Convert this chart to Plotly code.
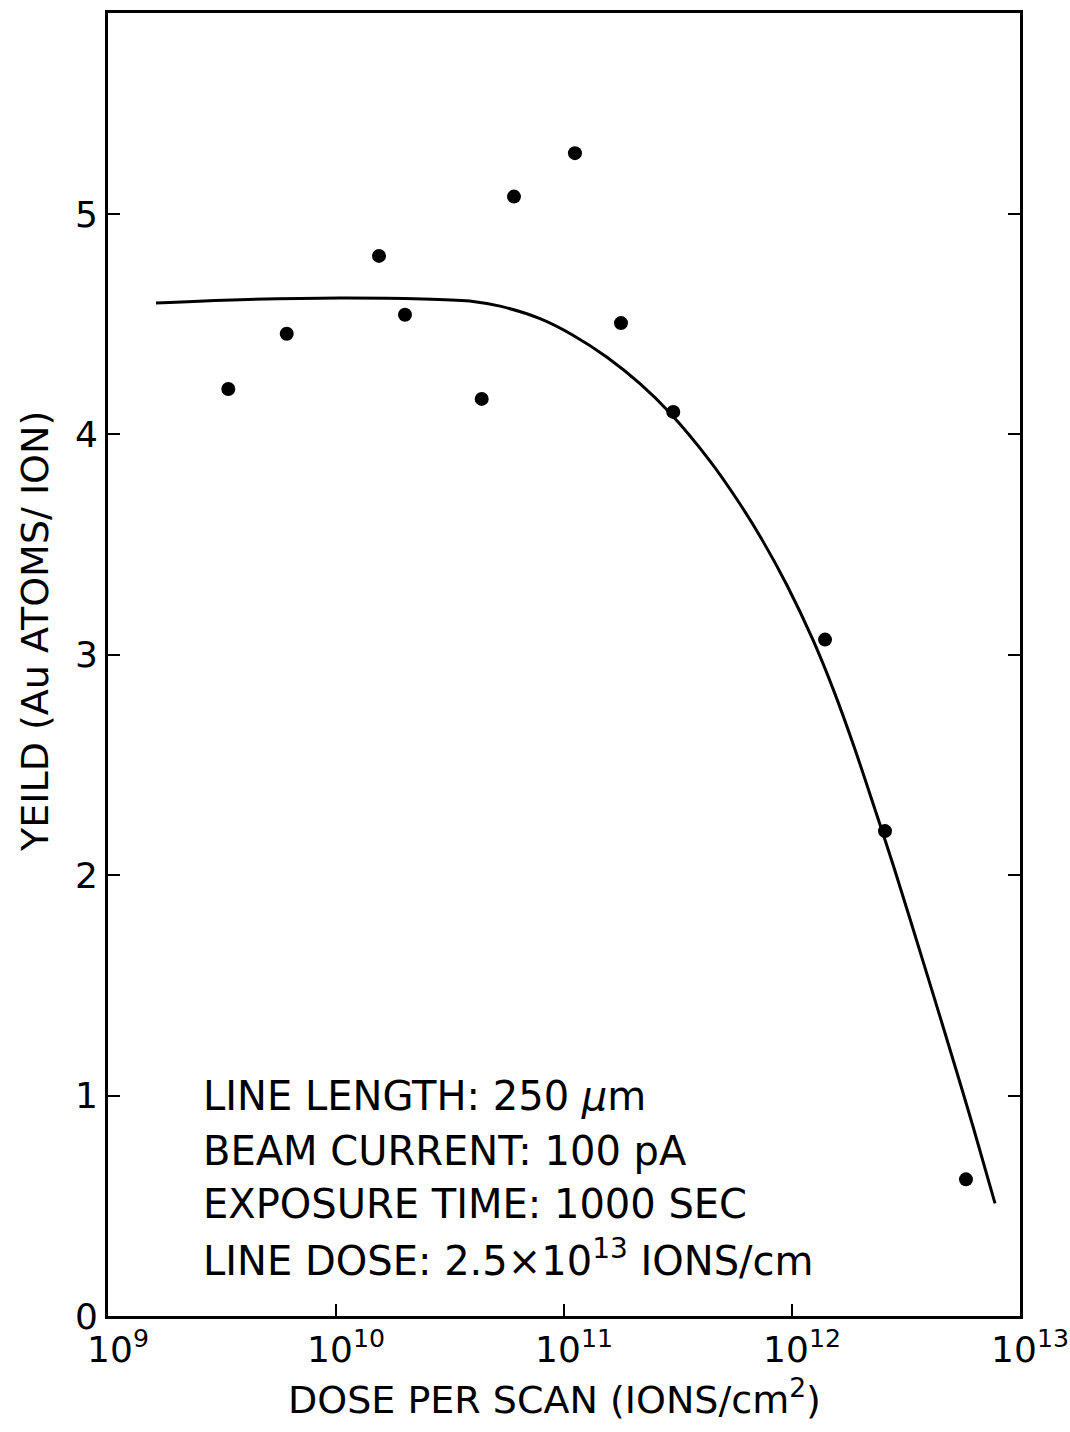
import plotly.graph_objects as go

# Measured data points: dose per scan (ions/cm^2) and yield (Au atoms / ion)
dose_pts = [3.37e9, 6.08e9, 1.544e10, 2.007e10, 4.355e10, 6.035e10,
            1.117e11, 1.778e11, 3.015e11, 1.396e12, 2.558e12, 5.794e12]
yield_pts = [4.206, 4.457, 4.810, 4.543, 4.161, 5.079,
             5.276, 4.505, 4.102, 3.069, 2.200, 0.620]

# Hand-drawn fit curve
curve_dose = [1.624e9, 3.793e9, 1.041e10, 2.408e10, 3.99e10, 5.24e10, 7.85e10,
              1.095e11, 1.544e11, 2.154e11, 2.917e11, 4.37e11, 5.72e11,
              7.24e11, 9.48e11, 1.240e12, 1.518e12, 1.857e12, 2.274e12,
              2.737e12, 3.293e12, 4.029e12, 5.083e12, 6.222e12, 7.771e12]
curve_yield = [4.596, 4.611, 4.619, 4.614, 4.603, 4.582, 4.525,
               4.450, 4.350, 4.230, 4.097, 3.879, 3.707,
               3.538, 3.318, 3.064, 2.842, 2.593, 2.321,
               2.067, 1.801, 1.507, 1.164, 0.860, 0.511]

x_tickvals = [1e9, 1e10, 1e11, 1e12, 1e13]
x_ticktext = ["10<sup>9</sup>", "10<sup>10</sup>", "10<sup>11</sup>",
              "10<sup>12</sup>", "10<sup>13</sup>"]
y_tickvals = [0, 1, 2, 3, 4, 5]

info_lines = ["LINE LENGTH: 250 <i>μ</i>m",
              "BEAM CURRENT: 100 pA",
              "EXPOSURE TIME: 1000 SEC",
              "LINE DOSE: 2.5×10<sup>13</sup> IONS/cm"]

FONT = "DejaVu Sans"

fig = go.Figure()
fig.add_trace(go.Scatter(x=curve_dose, y=curve_yield, mode="lines",
                         line=dict(color="black", width=3, shape="spline", smoothing=1.0),
                         showlegend=False, hoverinfo="skip"))
fig.add_trace(go.Scatter(x=dose_pts, y=yield_pts, mode="markers",
                         marker=dict(color="black", size=14),
                         showlegend=False))

annotations = []
info_y = [0.169, 0.127, 0.0857, 0.0445]
for txt, yy in zip(info_lines, info_y):
    annotations.append(dict(text=txt, x=0.102, y=yy, xref="paper", yref="paper",
                            xanchor="left", yanchor="middle", showarrow=False,
                            font=dict(family=FONT, size=40, color="black")))
annotations.append(dict(text="YEILD (Au ATOMS/ ION)", x=-0.080, y=0.525,
                        xref="paper", yref="paper", textangle=-90,
                        xanchor="center", yanchor="middle", showarrow=False,
                        font=dict(family=FONT, size=38, color="black")))
annotations.append(dict(text="DOSE PER SCAN (IONS/cm<sup>2</sup>)", x=0.49, y=-0.0624,
                        xref="paper", yref="paper",
                        xanchor="center", yanchor="middle", showarrow=False,
                        font=dict(family=FONT, size=38, color="black")))

fig.update_layout(
    width=1070, height=1432,
    margin=dict(l=108, r=50, t=13, b=116, autoexpand=False),
    paper_bgcolor="white", plot_bgcolor="white",
    font=dict(family=FONT, size=36, color="black"),
    annotations=annotations,
    xaxis=dict(type="log", range=[9, 13], tickvals=x_tickvals, ticktext=x_ticktext,
               showgrid=False, zeroline=False, showline=True, linecolor="black",
               linewidth=3, mirror=True, ticks="inside", ticklen=12, tickwidth=2,
               tickcolor="black", tickfont=dict(family=FONT, size=36),
               ticklabelshift=10, ticklabeloverflow="allow", automargin=False),
    yaxis=dict(range=[0, 5.912], tickvals=y_tickvals, automargin=False,
               showgrid=False, zeroline=False, showline=True, linecolor="black",
               linewidth=3, mirror="ticks", ticks="inside", ticklen=12, tickwidth=2,
               tickcolor="black", tickfont=dict(family=FONT, size=36)),
)

fig.write_html("out.html")
